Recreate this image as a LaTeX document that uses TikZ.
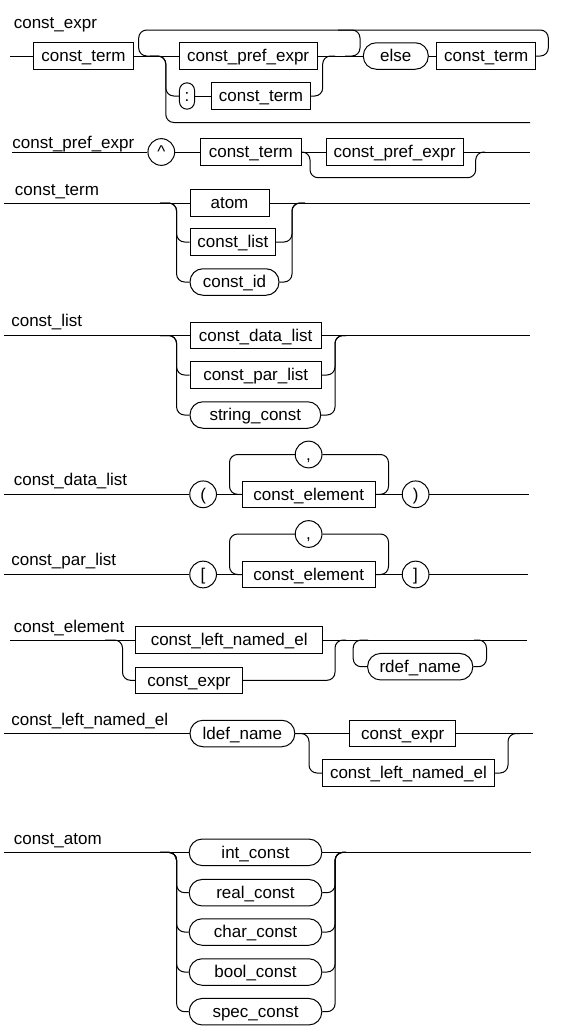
\documentclass[tikz,border=0pt]{standalone}
\usepackage{fontspec}
\setmainfont{Liberation Sans}
\usepackage{tikz}
\usetikzlibrary{positioning}
\tikzset{
  nonterm/.style={
    rectangle,
    minimum height=26.5pt,
    text height=15pt,
    text depth=3.5pt,
    inner sep=1pt,
    align=center,
    draw=black
    },
  term/.style={
    rectangle,
    rounded corners=13pt,
    minimum height=26.5pt,
    text height=15pt,
    text depth=3.5pt,
    inner sep=1pt,
    align=center,
    draw=black
    },
  sym/.style={
    circle,
    minimum size=26.7pt,
    text height=15pt,
    text depth=3.5pt,
    inner sep=0pt,
    draw=black
    },
  title/.style={anchor=base west, inner sep=0pt},
  track/.style={line width=1pt, rounded corners=8pt},
}

\begin{document}
\begin{tikzpicture}[
  x=1pt, y=-1pt,
  line width=1pt,
  font=\fontsize{17}{20}\selectfont
  ]
\useasboundingbox (0,0) rectangle (565,1028);

% const_expr
\node (t1) [title] at (13.3,28) {const\_expr};
\coordinate (s1) at (10,56);
\node (ct1) [nonterm,minimum width=99.8pt] at (83.4,56) {const\_term};
\node (cpe1) [nonterm,minimum width=138.3pt] at (248.2,56) {const\_pref\_expr};
\node (col) [term,rounded corners=7.5pt,minimum width=15.1pt,minimum height=26.3pt,inner sep=0pt] at (187,96) {:};
\node (ct2) [nonterm,minimum width=99.1pt] at (261,96) {const\_term};
\node (els) [term,minimum width=65pt] at (395.8,56) {else};
\node (ct3) [nonterm,minimum width=99pt] at (486.2,56) {const\_term};
\coordinate (e1) at (530,122.5);
\coordinate (j1a) at (150,56);
\coordinate (j1b) at (345,56);
\coordinate (j1c) at (338,30);
\coordinate (j1d) at (335,56);
\draw (s1) -- (ct1);
\draw (ct1) -- (cpe1);
\draw (cpe1) -- (els);
\draw (els) -- (ct3);
\draw[track] (j1a) -- (138.7,56) -- (138.7,30) -- (548.3,30) -- (548.3,56) -- (ct3.east);
\draw[track] (j1c) -- (360,30) -- (360,56) -- (j1b);
\draw[track] (j1a) -- (165.8,56) |- (col.west);
\draw[track] (j1a) -- (165.8,56) |- (e1);
\draw (col) -- (ct2);
\draw[track] (ct2.east) -| (322.7,56) -- (j1d);

% const_pref_expr
\node (t2) [title] at (11.9,148.3) {const\_pref\_expr};
\coordinate (s2) at (12,152);
\node (car) [sym] at (161.3,152) {\textasciicircum};
\node (ct4) [nonterm,minimum width=100.3pt] at (250.85,152) {const\_term};
\node (cpe2) [nonterm,minimum width=137pt] at (394.5,152) {const\_pref\_expr};
\coordinate (e2) at (530,152);
\coordinate (j2a) at (485,152);
\draw (s2) -- (car);
\draw (car) -- (ct4);
\draw (ct4) -- (cpe2);
\draw (cpe2) -- (e2);
\draw[track] (ct4.east) -- (310,152) -- (310,177.7) -- (475.7,177.7) -- (475.7,152) -- (j2a);

% const_term
\node (t3) [title] at (14.4,195) {const\_term};
\coordinate (s3) at (3.6,203);
\node (atom) [nonterm,minimum width=79pt] at (229.5,203) {atom};
\node (clist) [nonterm,minimum width=85.7pt] at (232.85,242) {const\_list};
\node (cid) [term,minimum width=89pt] at (234.5,282) {const\_id};
\coordinate (e3) at (530,203);
\coordinate (j3a) at (160,203);
\coordinate (j3b) at (305,203);
\draw (s3) -- (atom);
\draw (atom) -- (e3);
\draw[track] (j3a) -- (176.6,203) |- (clist.west);
\draw[track] (j3a) -- (176.6,203) |- (cid.west);
\draw[track] (clist.east) -| (292,203) -- (j3b);
\draw[track] (cid.east) -| (292,203) -- (j3b);

% const_list
\node (t4) [title] at (10.8,326.7) {const\_list};
\coordinate (s4) at (3.6,335.5);
\node (cdl) [nonterm,minimum width=131.4pt] at (255.7,335.5) {const\_data\_list};
\node (cpl) [nonterm,minimum width=131.4pt] at (255.7,375) {const\_par\_list};
\node (strc) [term,minimum width=130.7pt] at (255.35,415) {string\_const};
\coordinate (e4) at (529.7,335.5);
\coordinate (j4a) at (160,335.5);
\coordinate (j4b) at (346,335.5);
\draw (s4) -- (cdl);
\draw (cdl) -- (e4);
\draw[track] (j4a) -- (176.6,335.5) |- (cpl.west);
\draw[track] (j4a) -- (176.6,335.5) |- (strc.west);
\draw[track] (cpl.east) -| (335,335.5) -- (j4b);
\draw[track] (strc.east) -| (335,335.5) -- (j4b);

% const_data_list
\node (t5) [title] at (13.3,485.7) {const\_data\_list};
\coordinate (s5) at (4.3,494.3);
\node (lpar) [sym] at (203.1,494.3) {(};
\node (ce1) [nonterm,minimum width=133.5pt] at (308.75,494.3) {const\_element};
\node (com1) [sym] at (308.6,454.5) {,};
\node (rpar) [sym] at (415.6,494.3) {)};
\coordinate (e5) at (528.6,494.3);
\draw (s5) -- (lpar);
\draw (lpar) -- (ce1);
\draw (ce1) -- (rpar);
\draw (rpar) -- (e5);
\draw[track] (ce1.east) -| (388.5,454.5) -- (com1.east);
\draw[track] (com1.west) -| (229.5,494.3) -- (ce1.west);

% const_par_list
\node (t6) [title] at (10.8,565.7) {const\_par\_list};
\coordinate (s6) at (4.3,574.5);
\node (lbrk) [sym] at (203.1,574.5) {[};
\node (ce2) [nonterm,minimum width=133.5pt] at (308.75,574.5) {const\_element};
\node (com2) [sym] at (308.6,534) {,};
\node (rbrk) [sym] at (415.6,574.5) {]};
\coordinate (e6) at (528,574.5);
\draw (s6) -- (lbrk);
\draw (lbrk) -- (ce2);
\draw (ce2) -- (rbrk);
\draw (rbrk) -- (e6);
\draw[track] (ce2.east) -| (388.5,534) -- (com2.east);
\draw[track] (com2.west) -| (229.5,574.5) -- (ce2.west);

% const_element
\node (t7) [title] at (13.3,632.3) {const\_element};
\coordinate (s7) at (10,640);
\node (cln1) [nonterm,minimum width=186.6pt] at (229.2,640) {const\_left\_named\_el};
\node (cex1) [nonterm,minimum width=106.3pt] at (189.05,680.3) {const\_expr};
\node (rdef) [term,minimum width=105.2pt] at (420.2,666.7) {rdef\_name};
\coordinate (e7) at (526.8,640);
\coordinate (j7a) at (105,640);
\coordinate (j7b) at (346,640);
\coordinate (j7c) at (368,640);
\coordinate (j7d) at (474,640);
\draw (s7) -- (cln1);
\draw (cln1) -- (e7);
\draw[track] (j7a) -- (122.5,640) |- (cex1.west);
\draw[track] (cex1.east) -| (335,640) -- (j7b);
\draw[track] (j7c) -- (353.2,640) |- (rdef.west);
\draw[track] (rdef.east) -| (486.5,640) -- (j7d);

% const_left_named_el
\node (t8) [title] at (10.8,725) {const\_left\_named\_el};
\coordinate (s8) at (4.3,733.5);
\node (ldef) [term,minimum width=104.8pt] at (242.4,733.5) {ldef\_name};
\node (cex2) [nonterm,minimum width=106.4pt] at (402.7,733.5) {const\_expr};
\node (cln2) [nonterm,minimum width=171.9pt] at (408.45,773) {const\_left\_named\_el};
\coordinate (e8) at (533,733.5);
\coordinate (j8a) at (520,733.5);
\draw (s8) -- (ldef);
\draw (ldef) -- (cex2);
\draw (cex2) -- (e8);
\draw[track] (ldef.east) -- (309,733.5) |- (cln2.west);
\draw[track] (cln2.east) -| (508,733.5) -- (j8a);

% const_atom
\node (t9) [title] at (13.3,844) {const\_atom};
\coordinate (s9) at (3.6,852.3);
\node (intc) [term,minimum width=132.6pt] at (255.5,852.3) {int\_const};
\node (realc) [term,minimum width=132.6pt] at (255.5,892.7) {real\_const};
\node (charc) [term,minimum width=132.6pt] at (255.5,932) {char\_const};
\node (boolc) [term,minimum width=132.6pt] at (255.5,972) {bool\_const};
\node (specc) [term,minimum width=132.6pt] at (255.5,1011.7) {spec\_const};
\coordinate (e9) at (530.5,852.3);
\coordinate (j9a) at (160,852.3);
\coordinate (j9b) at (346,852.3);
\draw (s9) -- (intc);
\draw (intc) -- (e9);
\draw[track] (j9a) -- (176.6,852.3) |- (realc.west);
\draw[track] (j9a) -- (176.6,852.3) |- (charc.west);
\draw[track] (j9a) -- (176.6,852.3) |- (boolc.west);
\draw[track] (j9a) -- (176.6,852.3) |- (specc.west);
\draw[track] (realc.east) -| (335.1,852.3) -- (j9b);
\draw[track] (charc.east) -| (335.1,852.3) -- (j9b);
\draw[track] (boolc.east) -| (335.1,852.3) -- (j9b);
\draw[track] (specc.east) -| (335.1,852.3) -- (j9b);
\end{tikzpicture}
\end{document}
